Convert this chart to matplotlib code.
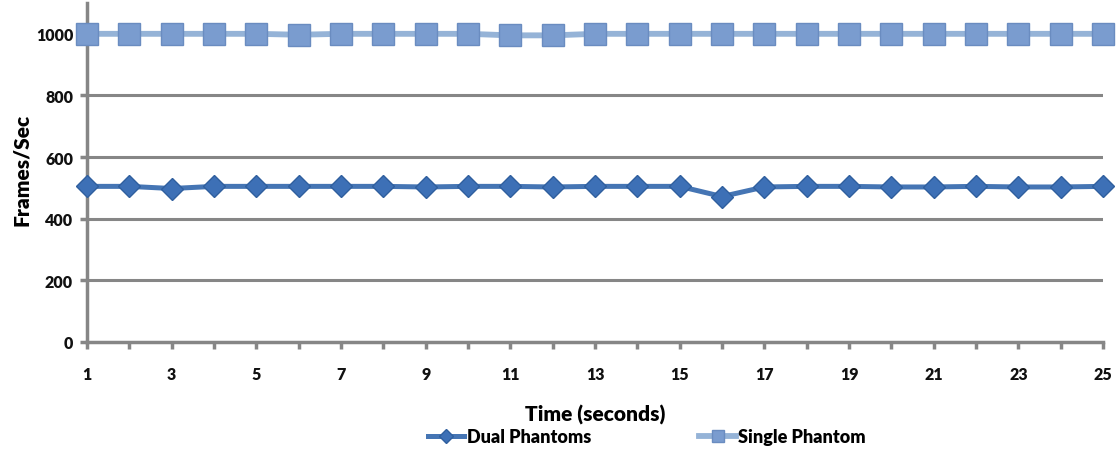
import matplotlib
matplotlib.use("Agg")
import matplotlib.pyplot as plt
import numpy as np

time_s = list(range(1, 26))
dual_phantoms = [505, 505, 498, 505, 505, 505, 505, 505, 503, 505, 505, 503, 505,
                 505, 505, 472, 503, 505, 505, 503, 503, 505, 503, 503, 505]
single_phantom = [1000, 1000, 1000, 1000, 1000, 997, 1000, 1000, 1000, 1000, 995, 995, 1000,
                  1000, 1000, 1000, 1000, 1000, 1000, 1000, 1000, 1000, 1000, 1000, 1000]
yticks = [0, 200, 400, 600, 800, 1000]
xtick_labels = [1, 3, 5, 7, 9, 11, 13, 15, 17, 19, 21, 23, 25]

plt.rcParams['font.family'] = ['Lato', 'DejaVu Sans']
W = 'heavy'

fig = plt.figure(figsize=(11.19, 4.56), dpi=100)
ax = fig.add_axes([87/1119, 1 - 343/456, (1103-87)/1119, (343-4)/456])

grid_c = '#868686'
for y in yticks[1:]:
    ax.axhline(y, color=grid_c, lw=2.2, zorder=1)

ax.plot(time_s, single_phantom, color='#95b3d7', lw=4.2, marker='s', ms=15.5,
        mfc='#7a9ccf', mec='#6a8cc0', mew=1.0, clip_on=False, zorder=3,
        label='Single Phantom')
ax.plot(time_s, dual_phantoms, color='#4575b4', lw=3.6, marker='D', ms=11.5,
        mfc='#3d70b6', mec='#2f5f9e', mew=1.0, clip_on=False, zorder=4,
        label='Dual Phantoms')

ax.set_xlim(1, 25)
ax.set_ylim(0, 1100)
ax.set_yticks(yticks)
ax.set_xticks(time_s)
ax.set_xticklabels([str(t) if t in xtick_labels else '' for t in time_s])
for s in ['top', 'right']:
    ax.spines[s].set_visible(False)
for s in ['left', 'bottom']:
    ax.spines[s].set_color(grid_c)
    ax.spines[s].set_linewidth(2.5)
ax.tick_params(axis='both', colors=grid_c, width=2.5, length=5, labelcolor='#111111',
               labelsize=11.5)
ax.tick_params(axis='y', direction='out', pad=5)
ax.tick_params(axis='x', direction='out', pad=12)
for lab in ax.get_xticklabels() + ax.get_yticklabels():
    lab.set_fontweight(W)

ax.set_ylabel('Frames/Sec', fontsize=15, fontweight=W)
ax.yaxis.set_label_coords((22 - 87) / 1016, (343 - 170) / 339)
ax.yaxis.label.set_va('center')
ax.set_xlabel('Time (seconds)', fontsize=15, fontweight=W, labelpad=16)

handles, labels = ax.get_legend_handles_labels()
leg = fig.legend(handles[::-1], labels[::-1], loc='center', bbox_to_anchor=(647/1119, 1 - 438/456),
                 ncol=2, frameon=False, prop={'size': 13, 'weight': W},
                 columnspacing=6.0, handlelength=2.0, handletextpad=0.15, markerscale=0.6)

fig.savefig('out.png', dpi=100)
